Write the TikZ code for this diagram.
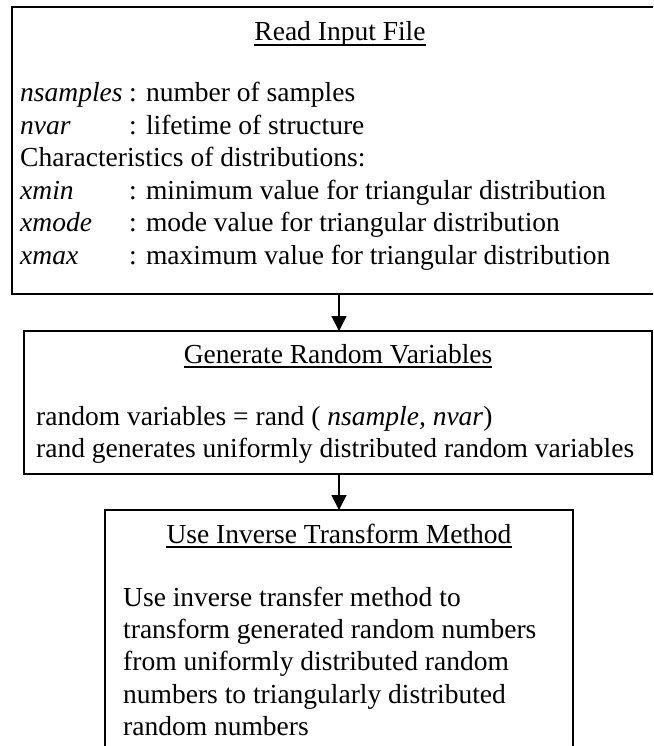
\documentclass[tikz,border=0pt]{standalone}
\usepackage{fontspec}
\setmainfont{Liberation Serif}
\usetikzlibrary{arrows.meta}
\begin{document}
\begin{tikzpicture}[x=1pt,y=-1pt,
  box/.style={draw, line width=1.8pt, inner sep=0pt, outer sep=0pt, anchor=north west},
  txt/.style={anchor=base west, inner sep=0pt, font=\fontsize{27.5}{32.4}\selectfont},
  ttl/.style={anchor=base, inner sep=0pt, font=\fontsize{27.5}{32.4}\selectfont},
  arr/.style={-{Triangle[length=15pt,width=15pt]}, line width=1.6pt},
  ul/.style={line width=1.4pt}]
\clip (0,0) rectangle (653,746);
\fill[white] (0,0) rectangle (653,746);
% boxes
\node[box, line width=2.2pt, minimum width=656pt, minimum height=287pt] (b1) at (12,7) {};
\node[box, minimum width=628pt, minimum height=143pt] (b2) at (24,331) {};
\node[box, minimum width=468pt, minimum height=260pt] (b3) at (105,510) {};
\coordinate (ax) at (339,0);
\draw[arr] (b1.south -| ax) -- (b2.north -| ax);
\draw[arr] (b2.south -| ax) -- (b3.north -| ax);
% box 1
\node[ttl] (t1) at (340,41) {Read Input File};
\draw[ul] ([yshift=-4pt]t1.base west) -- ([yshift=-4pt]t1.base east);
\node[txt] (n1) at (20,102) {\textit{nsamples}};
\node[txt] (c1) at (129,102) {: number of samples};
\node[txt] (n2) at (20,134.4) {\textit{nvar}};
\node[txt] (c2) at (129,134.4) {: lifetime of structure};
\node[txt] (n3) at (20,166.8) {Characteristics of distributions:};
\node[txt] (n4) at (20,199.2) {\textit{xmin}};
\node[txt] (c4) at (129,199.2) {: minimum value for triangular distribution};
\node[txt] (n5) at (20,231.6) {\textit{xmode}};
\node[txt] (c5) at (129,231.6) {: mode value for triangular distribution};
\node[txt] (n6) at (20,264) {\textit{xmax}};
\node[txt] (c6) at (129,264) {: maximum value for triangular distribution};
% box 2
\node[ttl] (t2) at (338,363) {Generate Random Variables};
\draw[ul] ([yshift=-4pt]t2.base west) -- ([yshift=-4pt]t2.base east);
\node[txt] (r1) at (36,425) {random variables = rand ( \textit{nsample, nvar})};
\node[txt] (r2) at (36,457) {rand generates uniformly distributed random variables};
% box 3
\node[ttl] (t3) at (339,543) {Use Inverse Transform Method};
\draw[ul] ([yshift=-4pt]t3.base west) -- ([yshift=-4pt]t3.base east);
\node[txt] (u1) at (123,606) {Use inverse transfer method to};
\node[txt] (u2) at (123,638.4) {transform generated random numbers};
\node[txt] (u3) at (123,670.8) {from uniformly distributed random};
\node[txt] (u4) at (123,703.2) {numbers to triangularly distributed};
\node[txt] (u5) at (123,735.6) {random numbers};
\end{tikzpicture}
\end{document}
